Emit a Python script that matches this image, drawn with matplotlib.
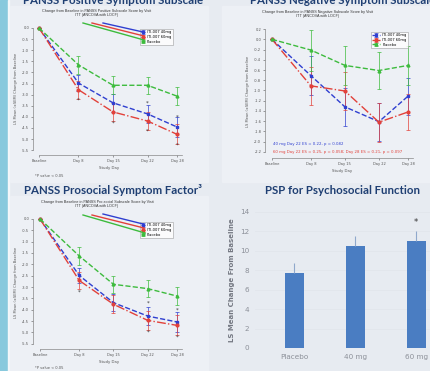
import matplotlib.pyplot as plt
from matplotlib.patches import Rectangle
from matplotlib.lines import Line2D

W, H = 431, 371

# ---- data ----
days = [0, 8, 15, 22, 28]
day_labels = ["Baseline", "Day 8", "Day 15", "Day 22", "Day 28"]
series_names = ["ITI-007 40mg", "ITI-007 60mg", "Placebo"]

# PANSS positive subscale
pos_40 = [0, -2.48, -3.37, -3.87, -4.46]
pos_60 = [0, -2.78, -3.78, -4.19, -4.79]
pos_pbo = [0, -1.66, -2.58, -2.58, -3.07]
pos_err_40 = [0, 0.38, 0.40, 0.42, 0.44]
pos_err_60 = [0, 0.40, 0.42, 0.42, 0.45]
pos_err_pbo = [0, 0.40, 0.40, 0.38, 0.40]
pos_stars = [(8, -3.25), (15, -4.27), (22, -3.40), (22, -4.65), (28, -4.00), (28, -5.27)]

# PANSS negative subscale
neg_40 = [0, -0.71, -1.32, -1.61, -1.11]
neg_60 = [0, -0.91, -1.01, -1.62, -1.42]
neg_pbo = [0, -0.21, -0.51, -0.61, -0.51]
neg_err_40 = [0, 0.38, 0.37, 0.37, 0.36]
neg_err_60 = [0, 0.37, 0.38, 0.38, 0.36]
neg_err_pbo = [0, 0.40, 0.38, 0.37, 0.38]

# PANSS prosocial factor
pro_40 = [0, -2.49, -3.69, -4.28, -4.54]
pro_60 = [0, -2.71, -3.76, -4.47, -4.69]
pro_pbo = [0, -1.63, -2.88, -3.07, -3.40]
pro_err_40 = [0, 0.35, 0.38, 0.40, 0.42]
pro_err_60 = [0, 0.37, 0.40, 0.42, 0.44]
pro_err_pbo = [0, 0.38, 0.38, 0.36, 0.38]
pro_stars = [(8, -3.22), (22, -3.72), (22, -4.99), (28, -4.03), (28, -5.20)]

# PSP bar chart
bar_groups = ["Placebo", "40 mg", "60 mg"]
psp_means = [7.7, 10.5, 11.0]
psp_err = [1.1, 1.0, 1.0]
psp_stars = [("60 mg", 12.9)]

colors = ["#2f3fd0", "#e2413a", "#3dbb3d"]
styles = ["--", "-.", "--"]
markers = ["s", "o", "^"]
title_color = "#1f3f73"
small_font = "Liberation Sans"


def rect(left, top, right, bottom):
    return [left / W, 1 - bottom / H, (right - left) / W, (bottom - top) / H]


def fx(x):
    return x / W


def fy(y):
    return 1 - y / H


fig = plt.figure(figsize=(W / 100, H / 100), dpi=100)
fig.patch.set_facecolor("#e7ebf1")
fig.patches.append(Rectangle((0, 0), fx(8), 1, transform=fig.transFigure,
                             color="#88c9dd", zorder=-5))
fig.patches.append(Rectangle((fx(8), 0), fx(1.5), 1, transform=fig.transFigure,
                             color="#f4f7fa", zorder=-5))
for l, t, r, b in [(10, 6, 208, 182), (222, 6, 431, 182), (10, 196, 208, 371)]:
    fig.patches.append(Rectangle((fx(l), fy(b)), fx(r - l), (b - t) / H,
                                 transform=fig.transFigure, color="#edf0f5", zorder=-5))


def line_panel(box, xlim, ylim, yticks, fmt, series, errs, stars, subtitle,
               sub_xy, legend_xy, skew=None, footnote=None):
    ax = fig.add_axes(rect(*box))
    ax.patch.set_alpha(0)
    for i in range(3):
        ax.errorbar(days, series[i], yerr=errs[i], color=colors[i], linestyle=styles[i],
                    marker=markers[i], markersize=2.0, linewidth=1.0,
                    elinewidth=0.5, capsize=1.2, capthick=0.5, label=series_names[i])
    for d, v in stars:
        ax.text(d, v, "*", fontsize=4, color="#333333", ha="center", va="center")
    ax.set_xlim(*xlim)
    ax.set_ylim(*ylim)
    ax.set_xticks(days)
    ax.set_xticklabels(day_labels)
    ax.set_yticks(yticks)
    ax.set_yticklabels([fmt.format(v) for v in yticks])
    ax.tick_params(labelsize=2.6, length=1.2, width=0.4, colors="#555555", pad=1.5)
    for s in ["top", "right"]:
        ax.spines[s].set_visible(False)
    for s in ["left", "bottom"]:
        ax.spines[s].set_color("#888888")
        ax.spines[s].set_linewidth(0.5)
    ax.spines["left"].set_bounds(min(yticks), max(yticks))
    ax.spines["bottom"].set_bounds(0, 29)
    ax.set_xlabel("Study Day", fontsize=2.8, color="#555555", labelpad=2)
    ax.set_ylabel("LS Mean (±SEM) Change from Baseline", fontsize=2.6,
                  color="#555555", labelpad=3)
    fig.text(fx(sub_xy[0]), fy(sub_xy[1]), subtitle, fontsize=2.7, ha="center",
             va="center", family=small_font, color="#333333", linespacing=1.2)
    leg = ax.legend(loc="upper left", bbox_to_anchor=(fx(legend_xy[0]), fy(legend_xy[1])),
                    bbox_transform=fig.transFigure, fontsize=2.6,
                    handlelength=2.2 if skew is None else 1.0,
                    frameon=True, fancybox=False, edgecolor="#888888", borderpad=0.4,
                    labelspacing=0.2, handletextpad=0.6)
    leg.get_frame().set_linewidth(0.4)
    if skew:
        for i, (x0, y0, x1, y1) in enumerate(skew):
            fig.add_artist(Line2D([fx(x0), fx(x1)], [fy(y0), fy(y1)],
                                  color=colors[i], linewidth=1.0))
    if footnote:
        fig.text(fx(footnote[0]), fy(footnote[1]), "*P value < 0.05", fontsize=2.6,
                 color="#555555", va="center")
    return ax


# top-left: positive subscale
line_panel((33, 22, 185, 155), (-1.22, 29.6), (-5.72, 0.27),
           [0.0, -0.5, -1.0, -1.5, -2.0, -2.5, -3.0, -3.5, -4.0, -4.5, -5.0, -5.5], "{:.1f}",
           [pos_40, pos_60, pos_pbo], [pos_err_40, pos_err_60, pos_err_pbo], pos_stars,
           "Change from Baseline in PANSS Positive Subscale Score by Visit\nITT (ANCOVA with LOCF)",
           (97, 13), (138, 27),
           skew=[(103, 23, 143, 32), (92, 23, 144, 36), (83, 23, 144, 40)],
           footnote=(35, 176))

# top-right: negative subscale
ax_neg = line_panel((265, 25, 420, 158), (-1.44, 30.45), (-2.32, 0.28),
                    [0.2, 0.0, -0.2, -0.4, -0.6, -0.8, -1.0, -1.2, -1.4, -1.6, -1.8, -2.0, -2.2],
                    "{:.1f}",
                    [neg_40, neg_60, neg_pbo], [neg_err_40, neg_err_60, neg_err_pbo], [],
                    "Change from Baseline in PANSS Negative Subscale Score by Visit\nITT (ANCOVA with LOCF)",
                    (318, 14), (369, 30))
ax_neg.text(0.3, -2.04, "40 mg Day 22 ES = 0.22, p = 0.082", fontsize=2.8,
            color=colors[0], va="center")
ax_neg.text(0.3, -2.20, "60 mg Day 22 ES = 0.25, p = 0.058; Day 28 ES = 0.21, p = 0.097",
            fontsize=2.8, color=colors[1], va="center")

# bottom-left: prosocial factor
line_panel((33, 216, 185, 349), (-1.43, 29.6), (-5.73, 0.13),
           [0.0, -0.5, -1.0, -1.5, -2.0, -2.5, -3.0, -3.5, -4.0, -4.5, -5.0, -5.5], "{:.1f}",
           [pro_40, pro_60, pro_pbo], [pro_err_40, pro_err_60, pro_err_pbo], pro_stars,
           "Change from Baseline in PANSS Pro-social Subscale Score by Visit\nITT (ANCOVA with LOCF)",
           (97, 204), (138, 220),
           skew=[(103, 214, 143, 224), (92, 215, 144, 228), (83, 215, 145, 233)],
           footnote=(35, 368))

# bottom-right: PSP bars
axb = fig.add_axes(rect(255, 212, 440, 348))
axb.patch.set_alpha(0)
xpos = list(range(len(bar_groups)))
axb.bar(xpos, psp_means, width=0.31, color="#4a7dc2", zorder=2)
axb.errorbar(xpos, psp_means, yerr=[[0] * 3, psp_err], fmt="none",
             ecolor="#8fa8cc", elinewidth=0.8, capsize=0, zorder=3)
for g, v in psp_stars:
    axb.text(bar_groups.index(g), v, "*", fontsize=6, ha="center", va="center",
             color="#333333")
axb.set_xlim(-0.64, 2.39)
axb.set_ylim(0, 14)
axb.set_yticks(range(0, 15, 2))
axb.set_xticks(xpos)
axb.set_xticklabels(bar_groups)
axb.yaxis.grid(True, color="#e0e4eb", linewidth=0.5, zorder=0)
axb.tick_params(length=0, labelsize=5.2, labelcolor="#8c9099", pad=4)
for s in axb.spines.values():
    s.set_visible(False)
axb.set_ylabel("LS Mean Change From Baseline", fontsize=5.0, fontweight="bold",
               color="#747882", labelpad=4)

# slide titles (the top row is cut by the slide edge, as in the screenshot)
tkw = dict(fontsize=8.3, fontweight="bold", color=title_color, family="Lato")
fig.text(fx(113), fy(4.5), "PANSS Positive Symptom Subscale", ha="center", va="baseline", **tkw)
fig.text(fx(250), fy(4.5), "PANSS Negative Symptom Subscale", ha="left", va="baseline", **tkw)
fig.text(fx(113), fy(194), "PANSS Prosocial Symptom Factor³", ha="center", va="baseline", **tkw)
fig.text(fx(343), fy(194), "PSP for Psychosocial Function", ha="center", va="baseline", **tkw)

fig.savefig("out.png", dpi=100)
